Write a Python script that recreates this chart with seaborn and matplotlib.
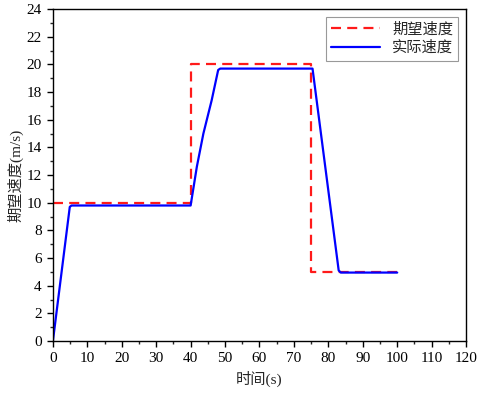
import numpy as np
import pandas as pd
import matplotlib
matplotlib.use("Agg")
import matplotlib.pyplot as plt
import seaborn as sns
from matplotlib.ticker import MultipleLocator

# desired speed (step profile)
ref_t = [0, 40, 40, 75, 75, 100]
ref_v = [10, 10, 20, 20, 5, 5]

# actual speed
act_t = [0, 4.9, 5.4, 40, 41.8, 43.7, 46.1, 48.0, 48.6, 75.4, 83.0, 83.6, 100]
act_v = [0, 9.7, 9.8, 9.8, 12.6, 15.0, 17.4, 19.6, 19.7, 19.7, 5.1, 4.95, 4.95]

sns.set_style("ticks")
plt.rcParams['font.family'] = ['Liberation Serif', 'Noto Sans CJK SC']
plt.rcParams['axes.unicode_minus'] = False

fig = plt.figure(figsize=(4.81, 3.97), dpi=100)
ax = fig.add_axes([0.110, 0.141, 0.859, 0.836])

df_ref = pd.DataFrame({'t': ref_t, 'v': ref_v})
df_act = pd.DataFrame({'t': act_t, 'v': act_v})

sns.lineplot(data=df_ref, x='t', y='v', ax=ax, color='#ff1a1a', lw=1.6,
             linestyle=(0, (4.5, 2.8)), label='期望速度', sort=False, estimator=None)
sns.lineplot(data=df_act, x='t', y='v', ax=ax, color='#0000ff', lw=1.6,
             label='实际速度', sort=False, estimator=None)

ax.set_xlim(0, 120)
ax.set_ylim(0, 24)
ax.xaxis.set_major_locator(MultipleLocator(10))
ax.xaxis.set_minor_locator(MultipleLocator(5))
ax.yaxis.set_major_locator(MultipleLocator(2))
ax.yaxis.set_minor_locator(MultipleLocator(1))
ax.tick_params(which='major', direction='out', length=4.5, width=1, labelsize=11, colors='black')
ax.tick_params(which='minor', direction='out', length=2.5, width=1)
ax.tick_params(top=False, right=False)
for s in ax.spines.values():
    s.set_linewidth(1.0)
    s.set_color('black')

ax.set_xlabel('时间(s)', fontsize=11)
ax.set_ylabel('期望速度(m/s)', fontsize=11, labelpad=2)

leg = ax.legend(loc='upper right', fontsize=11, frameon=True, fancybox=False,
                edgecolor='#808080', handlelength=3.2, borderpad=0.35, labelspacing=0.3)
leg.get_frame().set_linewidth(0.8)

fig.savefig('out.png', dpi=100)
